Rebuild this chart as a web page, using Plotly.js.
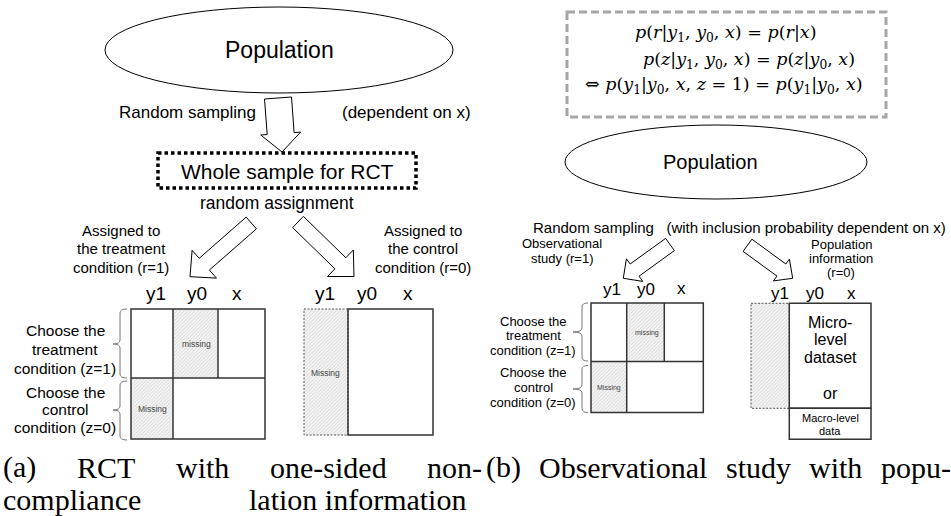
<!DOCTYPE html>
<html><head><meta charset="utf-8">
<script src="https://cdn.plot.ly/plotly-3.0.1.min.js"></script>
<style>html,body{margin:0;padding:0;background:#fff}#chart{width:951px;height:516px}</style>
</head><body><div id="chart"></div>
<script>
// ---------- text content ----------
const populationLabel = "Population";
const colHeaders = ["y1", "y0", "x"];
const samplingA = ["Random sampling", "(dependent on x)"];
const wholeSampleLabel = "Whole sample for RCT";
const assignLabel = "random assignment";
const assignedTreat = ["Assigned to", "the treatment", "condition (r=1)"];
const assignedCtrl = ["Assigned to", "the control", "condition (r=0)"];
const chooseTreat = ["Choose the", "treatment", "condition (z=1)"];
const chooseCtrl = ["Choose the", "control", "condition (z=0)"];
const missingLabels = ["missing", "Missing"];
const samplingB = "Random sampling\u00A0\u00A0\u00A0(with inclusion probability dependent on x)";
const obsLabel = ["Observational", "study (r=1)"];
const popInfoLabel = ["Population", "information", "(r=0)"];
const microLabel = ["Micro-", "level", "dataset", "or"];
const macroLabel = ["Macro-level", "data"];
const equations = [
  "<i>p</i>(<i>r</i>|<i>y</i><sub>1</sub>, <i>y</i><sub>0</sub>, <i>x</i>) = <i>p</i>(<i>r</i>|<i>x</i>)",
  "<i>p</i>(<i>z</i>|<i>y</i><sub>1</sub>, <i>y</i><sub>0</sub>, <i>x</i>) = <i>p</i>(<i>z</i>|<i>y</i><sub>0</sub>, <i>x</i>)",
  "\u21D4 <i>p</i>(<i>y</i><sub>1</sub>|<i>y</i><sub>0</sub>, <i>x</i>, <i>z</i> = 1) = <i>p</i>(<i>y</i><sub>1</sub>|<i>y</i><sub>0</sub>, <i>x</i>)"
];
const captionAWords = ["(a)", "RCT", "with", "one-sided", "non-"];
const captionA2 = "compliance";
const captionBWords = ["(b)", "Observational", "study", "with", "popu-"];
const captionB2 = "lation information";

// ---------- helpers ----------
const SANS = "Liberation Sans, Arial, sans-serif";
const SERIF = "Liberation Serif, Times New Roman, serif";
const MATH = "DejaVu Serif, serif";
const annotations = [];
const shapes = [];
function txt(t, x, y, size, opts) {
  opts = opts || {};
  annotations.push({
    text: t, x: x, y: y, xref: "x", yref: "y", showarrow: false,
    xanchor: opts.xanchor || "center", yanchor: opts.yanchor || "middle",
    font: {family: opts.family || SANS, size: size, color: opts.color || "#000"}
  });
}
function lines(arr, x, y0, dy, size, opts) {
  arr.forEach((t, i) => txt(t, x, y0 + i * dy, size, opts));
}
function rect(x0, y0, x1, y1, line) {
  shapes.push({type: "rect", xref: "x", yref: "y", x0, y0, x1, y1,
    line: line || {color: "#333", width: 1.5}, fillcolor: "rgba(0,0,0,0)"});
}
function seg(x0, y0, x1, y1, line) {
  shapes.push({type: "line", xref: "x", yref: "y", x0, y0, x1, y1,
    line: line || {color: "#333", width: 1.5}});
}
function ellipse(x0, y0, x1, y1) {
  shapes.push({type: "circle", xref: "x", yref: "y", x0, y0, x1, y1,
    line: {color: "#000", width: 1}, fillcolor: "rgba(0,0,0,0)"});
}
function blockArrow(tail, tip, sh, hh, hl) {
  const dx = tip[0] - tail[0], dy = tip[1] - tail[1];
  const L = Math.hypot(dx, dy), ux = dx / L, uy = dy / L;
  const nx = -uy, ny = ux;
  const bx = tip[0] - ux * hl, by = tip[1] - uy * hl;
  const pts = [
    [tail[0] + nx * sh, tail[1] + ny * sh], [bx + nx * sh, by + ny * sh], [bx + nx * hh, by + ny * hh],
    tip, [bx - nx * hh, by - ny * hh], [bx - nx * sh, by - ny * sh], [tail[0] - nx * sh, tail[1] - ny * sh]
  ];
  shapes.push({type: "path", xref: "x", yref: "y",
    path: "M" + pts.map(p => p[0].toFixed(1) + "," + p[1].toFixed(1)).join(" L") + " Z",
    line: {color: "#000", width: 1}, fillcolor: "#fff"});
}
function brace(ax, vx, tx, top, bot, mid) {
  const r = 4;
  const p = `M${ax},${top} Q${vx},${top} ${vx},${top + r} L${vx},${mid - r} Q${vx},${mid} ${tx},${mid} ` +
            `Q${vx},${mid} ${vx},${mid + r} L${vx},${bot - r} Q${vx},${bot} ${ax},${bot}`;
  shapes.push({type: "path", xref: "x", yref: "y", path: p, line: {color: "#777", width: 1}});
}
// justified line of words between xStart and xEnd
const measureCtx = document.createElement("canvas").getContext("2d");
function justify(words, xStart, xEnd, y, size, family) {
  measureCtx.font = size + "px " + family;
  const widths = words.map(w => measureCtx.measureText(w).width);
  const total = widths.reduce((a, b) => a + b, 0);
  const gap = (xEnd - xStart - total) / (words.length - 1);
  let x = xStart;
  words.forEach((w, i) => {
    txt(w, x, y, size, {family: family, xanchor: "left"});
    x += widths[i] + gap;
  });
}
// hatched cells -> bar trace
const hatch = {x: [], width: [], base: [], y: []};
function hatchCell(x0, y0, x1, y1) {
  hatch.x.push((x0 + x1) / 2); hatch.width.push(x1 - x0);
  hatch.base.push(y0); hatch.y.push(y1 - y0);
}
const dashed = {color: "#555", width: 1, dash: "2px,1.5px"};

// ================= Panel (a) =================
ellipse(105, 7, 453, 93);
txt(populationLabel, 279, 50, 23);
blockArrow([278, 98], [282, 152], 13.5, 20, 18.5);
txt(samplingA[0], 187, 112, 17);
txt(samplingA[1], 406, 112, 17);
rect(158, 153, 416, 188, {color: "#000", width: 3.5, dash: "3.5px,3px"});
txt(wholeSampleLabel, 287, 171, 21);
txt(assignLabel, 277, 203, 17.5);
blockArrow([251.3, 223], [190, 276.7], 7.8, 18.5, 19);
blockArrow([298, 222], [354, 276.5], 7.8, 18.5, 19);
lines(assignedTreat, 121, 230, 18.5, 15);
lines(assignedCtrl, 423, 230, 18.5, 15);
// left table
txt(colHeaders[0], 156, 293, 19); txt(colHeaders[1], 197, 293, 19); txt(colHeaders[2], 237, 293, 19);
hatchCell(173, 309, 218, 378);
hatchCell(131, 378, 173, 439);
rect(131, 309, 265, 439);
seg(131, 378, 265, 378);
seg(173, 309, 173, 439);
seg(218, 309, 218, 378);
txt(missingLabels[0], 196, 344, 8.5, {color: "#444"});
txt(missingLabels[1], 152, 409, 8.5, {color: "#444"});
brace(127, 120, 113, 309, 378, 344);
brace(127, 120, 113, 381, 440, 410);
lines(chooseTreat, 65, 330, 19, 15.5);
lines(chooseCtrl, 65, 392, 17.5, 15.5);
// right table
txt(colHeaders[0], 325, 293, 19); txt(colHeaders[1], 367, 293, 19); txt(colHeaders[2], 408, 293, 19);
hatchCell(304, 309, 348, 435);
rect(304, 309, 348, 435, dashed);
rect(348, 309, 433, 435);
txt(missingLabels[1], 325, 373, 8.5, {color: "#444"});

// ================= Panel (b) =================
rect(567, 12, 886, 117, {color: "#a6a6a6", width: 3, dash: "8px,4px"});
txt(equations[0], 725, 33, 17.5, {family: MATH});
txt(equations[1], 748.5, 60, 17.5, {family: MATH});
txt(equations[2], 723.5, 85, 17.5, {family: MATH});
ellipse(565, 125, 867, 199);
txt(populationLabel, 710, 162, 20);
txt(samplingB, 531, 227, 15, {xanchor: "left"});
blockArrow([670, 244.5], [623.3, 278.3], 7.5, 14, 14);
blockArrow([747.5, 245.3], [792.7, 278.3], 7.5, 13.5, 14);
lines(obsLabel, 562, 243, 15, 13);
lines(popInfoLabel, 841, 244, 14.3, 13);
// left table
txt(colHeaders[0], 612, 289, 17); txt(colHeaders[1], 646, 289, 17); txt(colHeaders[2], 681, 288, 17);
hatchCell(626.7, 303, 664.3, 361.5);
hatchCell(591, 361.5, 626.7, 412.5);
rect(591, 303, 703.3, 412.5);
seg(591, 361.5, 703.3, 361.5);
seg(626.7, 303, 626.7, 412.5);
seg(664.3, 303, 664.3, 361.5);
txt(missingLabels[0], 646.5, 333, 7, {color: "#444"});
txt(missingLabels[1], 609, 388, 7, {color: "#444"});
brace(588, 582, 573, 303, 361, 332);
brace(588, 582, 573, 365.5, 412.5, 389);
lines(chooseTreat, 533, 321, 14.7, 13);
lines(chooseCtrl, 533, 372, 15.2, 13);
// right table
txt(colHeaders[0], 780, 293, 17); txt(colHeaders[1], 815, 293, 17); txt(colHeaders[2], 851, 293, 17);
hatchCell(751, 303.3, 789.3, 408.3);
rect(751, 303.3, 789.3, 408.3, dashed);
rect(789.3, 303.3, 871, 408.3);
rect(789.3, 408.3, 871, 439.3);
txt(microLabel[0], 830, 322, 16); txt(microLabel[1], 830, 339.5, 16);
txt(microLabel[2], 830, 357.5, 16); txt(microLabel[3], 830, 393.5, 16);
txt(macroLabel[0], 830, 417.5, 11); txt(macroLabel[1], 830, 430.5, 11);

// ================= Captions =================
const capY1 = 467, capY2 = 499, capSize = 30;
justify(captionAWords, 1, 480, capY1, capSize, "Liberation Serif");
justify(captionBWords, 484, 949, capY1, capSize, "Liberation Serif");
txt(captionA2, 1, capY2, capSize, {family: SERIF, xanchor: "left"});
txt(captionB2, 247, capY2, capSize, {family: SERIF, xanchor: "left"});

const traces = [{
  type: "bar", x: hatch.x, width: hatch.width, base: hatch.base, y: hatch.y,
  marker: {color: "#f2f2f2", line: {width: 0},
    pattern: {shape: "/", fgcolor: "#d2d2d2", bgcolor: "#f4f4f4", size: 2.5, solidity: 0.35}},
  hoverinfo: "skip", showlegend: false
}];

const layout = {
  width: 951, height: 516, margin: {l: 0, r: 0, t: 0, b: 0},
  paper_bgcolor: "#fff", plot_bgcolor: "#fff", showlegend: false, barmode: "overlay",
  xaxis: {range: [0, 951], visible: false, fixedrange: true},
  yaxis: {range: [516, 0], visible: false, fixedrange: true},
  shapes: shapes, annotations: annotations
};
Plotly.newPlot("chart", traces, layout, {staticPlot: true, displayModeBar: false});
</script></body></html>
